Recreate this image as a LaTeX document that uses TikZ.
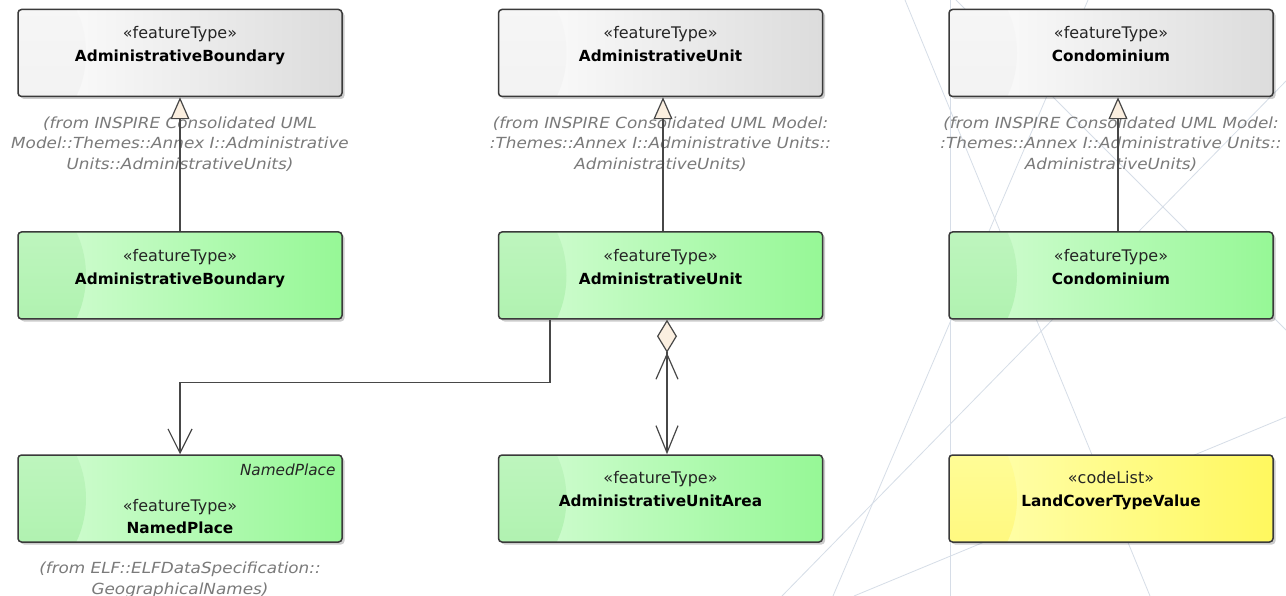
\documentclass[tikz,border=0pt]{standalone}
\usepackage{fontspec}
\setmainfont{DejaVu Sans}
\newfontfamily\notefont[FakeStretch=1.1]{DejaVu Sans}
\usetikzlibrary{arrows.meta,shadows}

\definecolor{boxline}{HTML}{3A3A3A}
\definecolor{conn}{HTML}{474747}
\definecolor{tipfill}{HTML}{FBEFE0}
\definecolor{notegray}{HTML}{7A7A7A}
\definecolor{stereotext}{HTML}{252525}
\definecolor{lattice}{HTML}{D6DDE7}
\definecolor{grayL}{HTML}{FFFFFF}
\definecolor{grayR}{HTML}{DCDCDC}
\definecolor{grayArcT}{HTML}{F8F8F8}
\definecolor{grayArcB}{HTML}{F0F0F0}
\definecolor{greenL}{HTML}{D6FCD6}
\definecolor{greenR}{HTML}{96F896}
\definecolor{greenArcT}{HTML}{C6F7C6}
\definecolor{greenArcB}{HTML}{A8F0A8}
\definecolor{yellowL}{HTML}{FFFFB4}
\definecolor{yellowR}{HTML}{FFF85E}
\definecolor{yellowArcT}{HTML}{FFFFA4}
\definecolor{yellowArcB}{HTML}{FFF672}

\begin{document}
\begin{tikzpicture}[x=1pt, y=-1pt,
  latt/.style={draw=lattice, line width=0.8pt},
  umlbox/.style={draw=boxline, line width=1.5pt, rounded corners=3.5pt,
    minimum width=324pt, minimum height=87pt, inner sep=0pt,
    drop shadow={shadow xshift=2.5pt, shadow yshift=-2.5pt, fill=black, opacity=0.2}},
  umlfill/.style n args={4}{left color=#1, right color=#2,
    path picture={\shade[top color=#3, bottom color=#4]
      ([xshift=-30pt]path picture bounding box.west) ellipse [x radius=98pt, y radius=100pt];}},
  grayfill/.style={umlfill={grayL}{grayR}{grayArcT}{grayArcB}},
  greenfill/.style={umlfill={greenL}{greenR}{greenArcT}{greenArcB}},
  yellowfill/.style={umlfill={yellowL}{yellowR}{yellowArcT}{yellowArcB}},
  stereo/.style={anchor=base, inner sep=0pt, text=stereotext, font=\fontsize{16}{18}\selectfont},
  cname/.style={anchor=base, inner sep=0pt, text=black, font=\fontsize{15.3}{18}\selectfont\bfseries},
  cnote/.style={anchor=north, inner sep=0pt, align=center, text=notegray,
    font=\notefont\itshape\fontsize{15.3}{20.8}\selectfont},
  gen/.style={draw=conn, line width=1.2pt, -{Triangle[length=22pt, width=19pt, fill=tipfill]}},
  assoc/.style={draw=conn, line width=1.2pt, -{Straight Barb[length=24pt, width=24pt]}},
  agg/.style={draw=conn, line width=1.2pt,
    {Diamond[length=33pt, width=20pt, fill=tipfill] Straight Barb[length=25pt, width=22pt]}-{Straight Barb[length=27pt, width=22pt]}}
]
\fill[white] (0,0) rectangle (1286,596);
\useasboundingbox (0,0) rectangle (1286,596);

% faint lattice in the background
\draw[latt] (950,0) -- (950,596);
\draw[latt] (905,0) -- (1150,596);
\draw[latt] (782,596) -- (1286,81);
\draw[latt] (833,596) -- (1088,0);
\draw[latt] (854,596) -- (1286,417);
\draw[latt] (956,0) -- (1286,330);

% imported classes (top row)
\node[umlbox, grayfill] (ab1) at (180,53) {};
\node[stereo] at ([yshift=-29.5pt]ab1.north) {«featureType»};
\node[cname] at ([yshift=-53pt]ab1.north) {AdministrativeBoundary};

\node[umlbox, grayfill] (au1) at (660.5,53) {};
\node[stereo] at ([yshift=-29.5pt]au1.north) {«featureType»};
\node[cname] at ([yshift=-53pt]au1.north) {AdministrativeUnit};

\node[umlbox, grayfill] (co1) at (1111,53) {};
\node[stereo] at ([yshift=-29.5pt]co1.north) {«featureType»};
\node[cname] at ([yshift=-53pt]co1.north) {Condominium};

% local classes (middle row)
\node[umlbox, greenfill] (ab2) at (180,275.5) {};
\node[stereo] at ([yshift=-30.5pt]ab2.north) {«featureType»};
\node[cname] at ([yshift=-53pt]ab2.north) {AdministrativeBoundary};

\node[umlbox, greenfill] (au2) at (660.5,275.5) {};
\node[stereo] at ([yshift=-30.5pt]au2.north) {«featureType»};
\node[cname] at ([yshift=-53pt]au2.north) {AdministrativeUnit};

\node[umlbox, greenfill] (co2) at (1111,275.5) {};
\node[stereo] at ([yshift=-30.5pt]co2.north) {«featureType»};
\node[cname] at ([yshift=-53pt]co2.north) {Condominium};

% bottom row
\node[umlbox, greenfill] (np) at (180,498.5) {};
\node[anchor=base east, inner sep=0pt, text=stereotext, font=\fontsize{15.3}{18}\selectfont\itshape]
  at ([xshift=-7pt, yshift=-21.5pt]np.north east) {NamedPlace};
\node[stereo] at ([yshift=-57.5pt]np.north) {«featureType»};
\node[cname] at ([yshift=-79.5pt]np.north) {NamedPlace};

\node[umlbox, greenfill] (area) at (660.5,498.5) {};
\node[stereo] at ([yshift=-29.5pt]area.north) {«featureType»};
\node[cname] at ([yshift=-52.5pt]area.north) {AdministrativeUnitArea};

\node[umlbox, yellowfill] (lc) at (1111,498.5) {};
\node[stereo] at ([yshift=-29.5pt]lc.north) {«codeList»};
\node[cname] at ([yshift=-52pt]lc.north) {LandCoverTypeValue};

% package notes
\node[cnote] (ab1n) at ([yshift=-19pt]ab1.south)
  {(from INSPIRE Consolidated UML\\Model::Themes::Annex I::Administrative\\Units::AdministrativeUnits)};
\node[cnote] (au1n) at ([yshift=-19pt]au1.south)
  {(from INSPIRE Consolidated UML Model:\\:Themes::Annex I::Administrative Units::\\AdministrativeUnits)};
\node[cnote] (co1n) at ([yshift=-19pt]co1.south)
  {(from INSPIRE Consolidated UML Model:\\:Themes::Annex I::Administrative Units::\\AdministrativeUnits)};
\node[cnote] (npn) at ([yshift=-19pt]np.south)
  {(from ELF::ELFDataSpecification::\\GeographicalNames)};

% generalisations
\draw[gen] (ab2.north) -- (ab1.south);
\draw[gen] ([xshift=2.5pt]au2.north) -- ([xshift=2.5pt]au1.south);
\draw[gen] ([xshift=7pt]co2.north) -- ([xshift=7pt]co1.south);

% associations
\draw[assoc] ([xshift=-110.5pt]au2.south) -- ++(0,63) -| (np.north);
\draw[agg] ([xshift=6.5pt]au2.south) -- ([xshift=6.5pt]area.north);
\end{tikzpicture}
\end{document}
